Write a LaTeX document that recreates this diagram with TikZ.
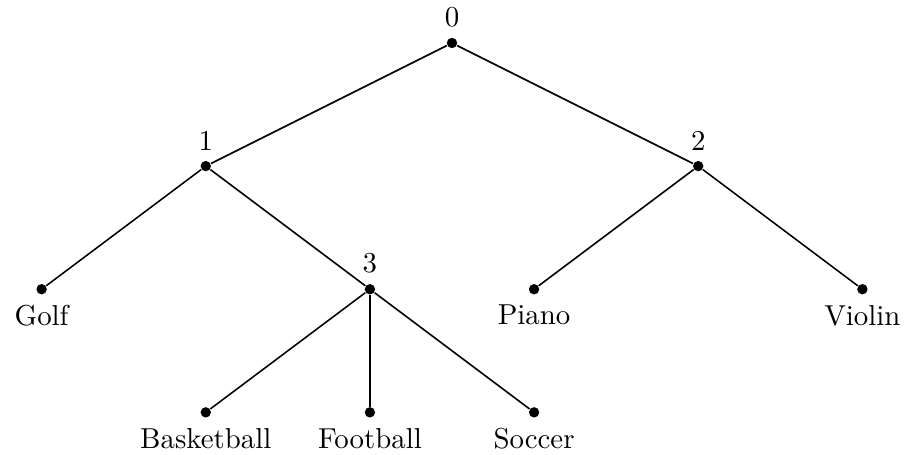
\documentclass[tikz,border=0pt]{standalone}
\begin{document}
\begin{tikzpicture}[x=2cm,y=1.5cm,
  vertex/.style={circle,fill=black,inner sep=0pt,minimum size=3.6pt},
  edge/.style={draw=black,line width=0.55pt}]
\useasboundingbox (-5.507cm,0.524cm) rectangle (5.519cm,-5.019cm);
% internal nodes, labelled above
\node[vertex,label=above:0] (n0) at (0,0) {};
\node[vertex,label=above:1] (n1) at (-1.5,-1) {};
\node[vertex,label=above:2] (n2) at (1.5,-1) {};
\node[vertex,label=above:3] (n3) at (-0.5,-2) {};
% leaves, labelled below
\node[vertex,label=below:Golf] (golf) at (-2.5,-2) {};
\node[vertex,label=below:Piano] (piano) at (0.5,-2) {};
\node[vertex,label=below:Violin] (violin) at (2.5,-2) {};
\node[vertex,label=below:Basketball] (basket) at (-1.5,-3) {};
\node[vertex,label=below:Football] (foot) at (-0.5,-3) {};
\node[vertex,label=below:Soccer] (soccer) at (0.5,-3) {};
% branches
\draw[edge] (n0) -- (n1);
\draw[edge] (n0) -- (n2);
\draw[edge] (n1) -- (golf);
\draw[edge] (n1) -- (n3);
\draw[edge] (n2) -- (piano);
\draw[edge] (n2) -- (violin);
\draw[edge] (n3) -- (basket);
\draw[edge] (n3) -- (foot);
\draw[edge] (n3) -- (soccer);
\end{tikzpicture}
\end{document}
